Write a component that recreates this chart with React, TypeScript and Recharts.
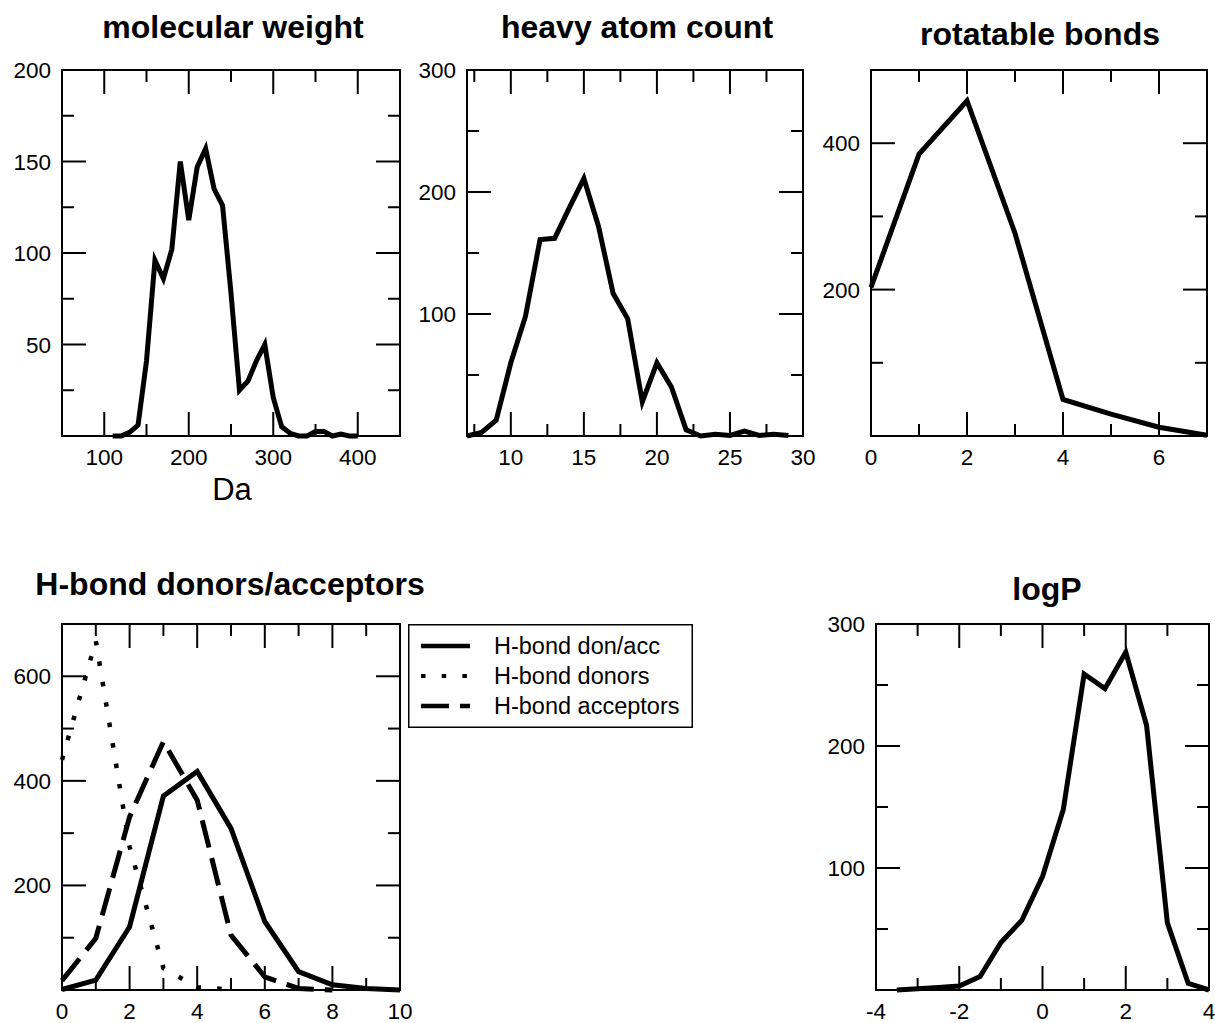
import React from 'react';
import { LineChart, Line, XAxis, YAxis, ReferenceArea, Legend } from 'recharts';

// molecular weight (Da)
const mwBins = [110, 120, 130, 140, 150, 160, 170, 180, 190, 200, 210, 220, 230, 240, 250, 260, 270, 280, 290, 300, 310, 320, 330, 340, 350, 360, 370, 380, 390, 400];
const mwCounts = [0, 0, 2, 6, 41, 96, 86, 102, 150, 118, 147, 157, 135, 126, 78, 25, 30, 41, 50, 21, 5, 1.5, 0, 0, 2.5, 2.5, 0, 1, 0, 0];

// heavy atom count
const haBins = [7, 8, 9, 10, 11, 12, 13, 14, 15, 16, 17, 18, 19, 20, 21, 22, 23, 24, 25, 26, 27, 28, 29];
const haCounts = [0, 3, 13, 60, 98, 161, 162, 187, 211, 172, 117, 96, 28, 60, 40, 5, 0, 1.5, 0.5, 4, 0.5, 1.5, 0.5];

// rotatable bonds
const rbBins = [0, 1, 2, 3, 4, 5, 6, 7];
const rbCounts = [203, 385, 458, 277, 50, 30, 12, 1];

// H-bond donors / acceptors
const hbBins = [0, 1, 2, 3, 4, 5, 6, 7, 8, 9, 10];
const hbDonAcc = [1, 19, 121, 371, 418, 309, 131, 35, 10, 3, 0];
const hbDonors = [440, 668, 274, 42, 5, 1];
const hbAcceptors = [18, 99, 331, 475, 363, 105, 25, 3, 0];

// logP
const lpBins = [-3.5, -3, -2.5, -2, -1.5, -1, -0.5, 0, 0.5, 1, 1.5, 2, 2.5, 3, 3.5, 4];
const lpCounts = [0, 1, 2, 3.3, 11, 39, 57, 93, 148, 259, 247, 277, 217, 55, 5.5, 0];

// tick positions / labels
const mwXTicks = [100, 150, 200, 250, 300, 350, 400];
const mwXLabels = [100, 200, 300, 400];
const mwYTicks = [25, 50, 75, 100, 125, 150, 175, 200];
const mwYLabels = [50, 100, 150, 200];

const haXTicks = [7.5, 10, 12.5, 15, 17.5, 20, 22.5, 25, 27.5, 30];
const haXLabels = [10, 15, 20, 25, 30];
const haYTicks = [50, 100, 150, 200, 250, 300];
const haYLabels = [100, 200, 300];

const rbXTicks = [0, 1, 2, 3, 4, 5, 6, 7];
const rbXLabels = [0, 2, 4, 6];
const rbYTicks = [100, 200, 300, 400, 500];
const rbYLabels = [200, 400];

const hbXTicks = [0, 1, 2, 3, 4, 5, 6, 7, 8, 9, 10];
const hbXLabels = [0, 2, 4, 6, 8, 10];
const hbYTicks = [100, 200, 300, 400, 500, 600, 700];
const hbYLabels = [200, 400, 600];

const lpXTicks = [-4, -3, -2, -1, 0, 1, 2, 3, 4];
const lpXLabels = [-4, -2, 0, 2, 4];
const lpYTicks = [50, 100, 150, 200, 250, 300];
const lpYLabels = [100, 200, 300];

const hbSeries = [
  { key: 'donacc', name: 'H-bond don/acc', dash: undefined as string | undefined, width: 5 },
  { key: 'donors', name: 'H-bond donors', dash: '4.5 16.2', width: 4.5 },
  { key: 'acceptors', name: 'H-bond acceptors', dash: '28 11', width: 5 },
];

const FONT = '"Liberation Sans", Arial, Helvetica, sans-serif';
const LINE_W = 5;
const MAJOR = 24;
const MINOR = 12;
const PADL = 60;
const PADR = 12;
const PADT = 12;
const PADB = 60;

type Box = { left: number; top: number; right: number; bottom: number };

const makeXTick = (plotH: number, labels: number[]) => (props: any) => {
  const { x, y, payload } = props;
  const v = payload.value;
  const len = labels.includes(v) ? MAJOR : MINOR;
  return (
    <g>
      <line x1={x} x2={x} y1={y} y2={y - len} stroke="#000" strokeWidth={2} />
      <line x1={x} x2={x} y1={y - plotH} y2={y - plotH + len} stroke="#000" strokeWidth={2} />
      {labels.includes(v) && (
        <text x={x} y={y + 29} textAnchor="middle" fontSize={22.5} fontFamily={FONT} fill="#000">
          {String(v)}
        </text>
      )}
    </g>
  );
};

const makeYTick = (plotW: number, labels: number[]) => (props: any) => {
  const { x, y, payload } = props;
  const v = payload.value;
  const len = labels.includes(v) ? MAJOR : MINOR;
  return (
    <g>
      <line x1={x} x2={x + len} y1={y} y2={y} stroke="#000" strokeWidth={2} />
      <line x1={x + plotW} x2={x + plotW - len} y1={y} y2={y} stroke="#000" strokeWidth={2} />
      {labels.includes(v) && (
        <text x={x - 11} y={y + 8} textAnchor="end" fontSize={22.5} fontFamily={FONT} fill="#000">
          {String(v)}
        </text>
      )}
    </g>
  );
};

function Panel(props: {
  box: Box;
  data: any[];
  xDomain: [number, number];
  yDomain: [number, number];
  xTicks: number[];
  xLabels: number[];
  yTicks: number[];
  yLabels: number[];
  children: React.ReactNode;
}) {
  const { box, data, xDomain, yDomain, xTicks, xLabels, yTicks, yLabels, children } = props;
  const plotW = box.right - box.left;
  const plotH = box.bottom - box.top;
  return (
    <div style={{ position: 'absolute', left: box.left - PADL, top: box.top - PADT }}>
      <LineChart
        width={plotW + PADL + PADR}
        height={plotH + PADT + PADB}
        data={data}
        margin={{ top: PADT, right: PADR, bottom: 0, left: 0 }}
      >
        <XAxis
          dataKey="x"
          type="number"
          domain={xDomain}
          ticks={xTicks}
          interval={0}
          height={PADB}
          axisLine={false}
          tickLine={false}
          tickSize={0}
          tickMargin={0}
          tick={makeXTick(plotH, xLabels)}
        />
        <YAxis
          type="number"
          domain={yDomain}
          ticks={yTicks}
          interval={0}
          width={PADL}
          axisLine={false}
          tickLine={false}
          tickSize={0}
          tickMargin={0}
          tick={makeYTick(plotW, yLabels)}
        />
        <ReferenceArea
          x1={xDomain[0]}
          x2={xDomain[1]}
          y1={yDomain[0]}
          y2={yDomain[1]}
          fill="none"
          fillOpacity={0}
          stroke="#000"
          strokeWidth={2}
        />
        {children}
      </LineChart>
    </div>
  );
}

function HBondLegend() {
  return (
    <svg width={285} height={104} style={{ display: 'block' }}>
      <rect x={0.75} y={0.75} width={283.5} height={102.5} fill="#fff" stroke="#000" strokeWidth={1.5} />
      {hbSeries.map((s, i) => {
        const cy = 22 + i * 30;
        return (
          <g key={s.key}>
            <line x1={13} x2={62} y1={cy} y2={cy} stroke="#000" strokeWidth={s.width - 0.5} strokeDasharray={s.dash} />
            <text x={86} y={cy + 8} fontSize={23.5} fontFamily={FONT} fill="#000">
              {s.name}
            </text>
          </g>
        );
      })}
    </svg>
  );
}

const mwData = mwBins.map((x, i) => ({ x, y: mwCounts[i] }));
const haData = haBins.map((x, i) => ({ x, y: haCounts[i] }));
const rbData = rbBins.map((x, i) => ({ x, y: rbCounts[i] }));
const hbData = hbBins.map((x, i) => ({
  x,
  donacc: hbDonAcc[i],
  donors: i < hbDonors.length ? hbDonors[i] : null,
  acceptors: i < hbAcceptors.length ? hbAcceptors[i] : null,
}));
const lpData = lpBins.map((x, i) => ({ x, y: lpCounts[i] }));

const titles = [
  { text: 'molecular weight', x: 233, y: 38 },
  { text: 'heavy atom count', x: 637, y: 38 },
  { text: 'rotatable bonds', x: 1040, y: 45 },
  { text: 'H-bond donors/acceptors', x: 230, y: 595 },
  { text: 'logP', x: 1047, y: 600 },
];

const hbBox = { left: 62, top: 624, right: 400, bottom: 990 };

export default function App() {
  return (
    <div
      style={{
        position: 'absolute',
        left: 0,
        top: 0,
        width: 1215,
        height: 1023,
        background: '#fff',
        overflow: 'hidden',
        fontFamily: FONT,
      }}
    >
      <svg width={1215} height={1023} style={{ position: 'absolute', left: 0, top: 0 }}>
        {titles.map((t) => (
          <text key={t.text} x={t.x} y={t.y} textAnchor="middle" fontSize={32} fontWeight="bold" fontFamily={FONT} fill="#000">
            {t.text}
          </text>
        ))}
        <text x={232} y={500} textAnchor="middle" fontSize={31} fontFamily={FONT} fill="#000">
          Da
        </text>
      </svg>

      <Panel
        box={{ left: 62, top: 70, right: 400, bottom: 436 }}
        data={mwData}
        xDomain={[50, 450]}
        yDomain={[0, 200]}
        xTicks={mwXTicks}
        xLabels={mwXLabels}
        yTicks={mwYTicks}
        yLabels={mwYLabels}
      >
        <Line type="linear" dataKey="y" stroke="#000" strokeWidth={LINE_W} dot={false} isAnimationActive={false} />
      </Panel>

      <Panel
        box={{ left: 467, top: 70, right: 803, bottom: 436 }}
        data={haData}
        xDomain={[7, 30]}
        yDomain={[0, 300]}
        xTicks={haXTicks}
        xLabels={haXLabels}
        yTicks={haYTicks}
        yLabels={haYLabels}
      >
        <Line type="linear" dataKey="y" stroke="#000" strokeWidth={LINE_W} dot={false} isAnimationActive={false} />
      </Panel>

      <Panel
        box={{ left: 871, top: 70, right: 1207, bottom: 436 }}
        data={rbData}
        xDomain={[0, 7]}
        yDomain={[0, 500]}
        xTicks={rbXTicks}
        xLabels={rbXLabels}
        yTicks={rbYTicks}
        yLabels={rbYLabels}
      >
        <Line type="linear" dataKey="y" stroke="#000" strokeWidth={LINE_W} dot={false} isAnimationActive={false} />
      </Panel>

      <Panel
        box={hbBox}
        data={hbData}
        xDomain={[0, 10]}
        yDomain={[0, 700]}
        xTicks={hbXTicks}
        xLabels={hbXLabels}
        yTicks={hbYTicks}
        yLabels={hbYLabels}
      >
        {hbSeries.map((s) => (
          <Line
            key={s.key}
            type="linear"
            dataKey={s.key}
            name={s.name}
            stroke="#000"
            strokeWidth={s.width}
            strokeDasharray={s.dash}
            strokeLinecap="butt"
            dot={false}
            isAnimationActive={false}
          />
        ))}
        <Legend
          layout="vertical"
          align="center"
          verticalAlign="middle"
          wrapperStyle={{ left: 408 - (hbBox.left - PADL), top: PADT, width: 285, height: 104 }}
          content={() => <HBondLegend />}
        />
      </Panel>

      <Panel
        box={{ left: 876, top: 624, right: 1209, bottom: 990 }}
        data={lpData}
        xDomain={[-4, 4]}
        yDomain={[0, 300]}
        xTicks={lpXTicks}
        xLabels={lpXLabels}
        yTicks={lpYTicks}
        yLabels={lpYLabels}
      >
        <Line type="linear" dataKey="y" stroke="#000" strokeWidth={LINE_W} dot={false} isAnimationActive={false} />
      </Panel>
    </div>
  );
}
